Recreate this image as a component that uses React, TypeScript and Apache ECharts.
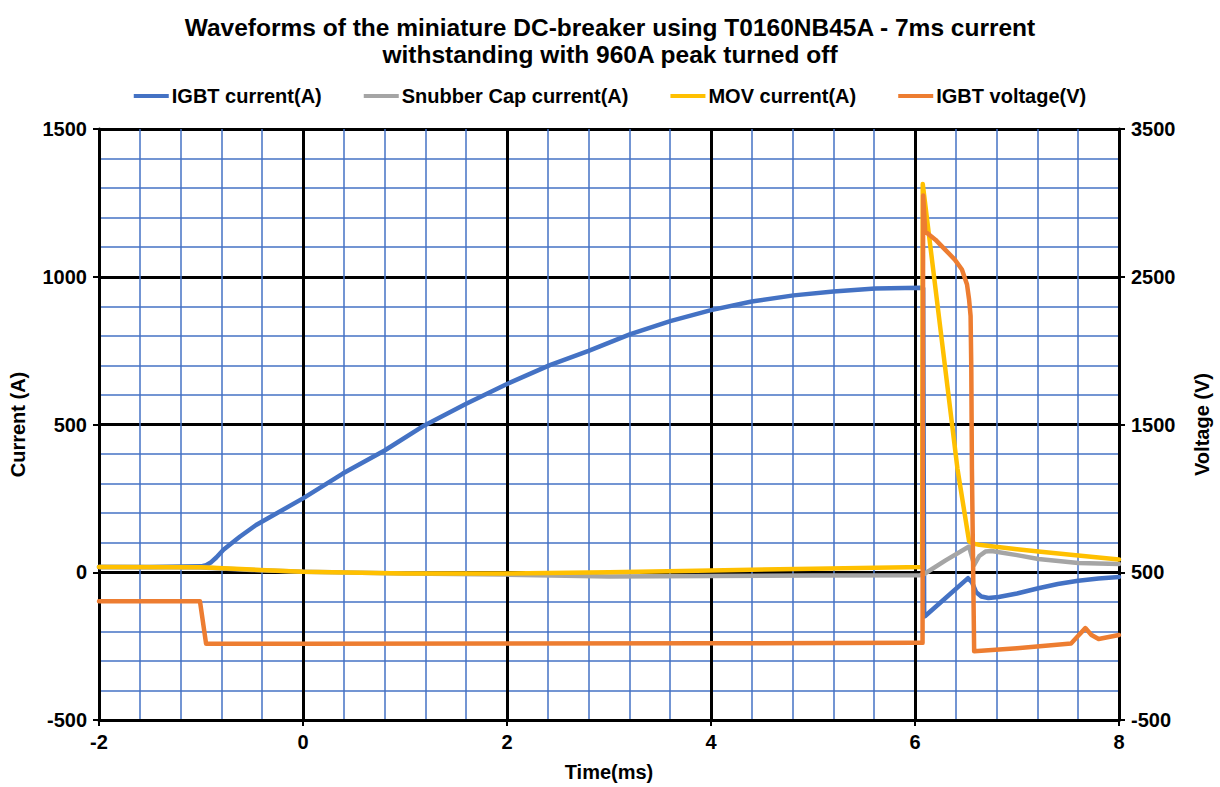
import React, { useEffect, useRef } from "react";
import * as echarts from "echarts";

const titleText =
  "Waveforms of the miniature DC-breaker using T0160NB45A - 7ms current\nwithstanding with 960A peak turned off";

const seriesNames = [
  "IGBT current(A)",
  "Snubber Cap current(A)",
  "MOV current(A)",
  "IGBT voltage(V)",
];

const xTicks = { min: -2, max: 8, interval: 2 };
const currentTicks = { min: -500, max: 1500, interval: 500 };
const voltageTicks = { min: -500, max: 3500, interval: 1000 };

// IGBT current (A)
const igbtCurrentT = [
  -2, -1.5, -1.0, -0.95, -0.9, -0.85, -0.78, -0.62, -0.46, 0, 0.39, 0.8, 1.19, 1.6,
  2.0, 2.42, 2.8, 3.21, 3.6, 4.0, 4.4, 4.81, 5.2, 5.61, 6.05, 6.08, 6.09, 6.1, 6.3,
  6.52, 6.56, 6.6, 6.65, 6.72, 6.82, 7.0, 7.21, 7.4, 7.6, 7.8, 8.0,
];
const igbtCurrentA = [
  18, 18, 20, 24, 34, 50, 76, 120, 160, 250, 334, 412, 497, 570, 637, 701, 749, 806,
  850, 887, 916, 937, 950, 960, 963, 962, -150, -148, -87, -20, -35, -68, -82, -87,
  -84, -72, -54, -40, -29, -21, -16,
];

// Snubber capacitor current (A)
const snubberT = [
  -2, -1, -0.5, 0, 1, 2, 3, 4, 5, 6.05, 6.09, 6.3, 6.53, 6.58, 6.63, 6.69, 6.75,
  7.0, 7.21, 7.6, 8.0,
];
const snubberA = [
  18, 16, 8, 2, -4, -8, -14, -13, -11, -10, -6, 40, 87, 25, 55, 70, 72, 58, 45, 31,
  28,
];

// MOV current (A)
const movT = [
  -2, -1, -0.5, 0, 1, 2, 3, 4, 5, 6.07, 6.076, 6.2, 6.416, 6.53, 6.57, 6.63, 6.75,
  7.0, 7.21, 7.6, 8.0,
];
const movA = [
  18, 17, 9, 2, -4, -4, 0, 6, 12, 18, 1314, 963, 351, 105, 97, 93, 88, 78, 70, 57,
  43,
];

// IGBT voltage (V)
const voltageT = [
  -2, -1.01, -0.95, 0, 2, 4, 6, 6.074, 6.08, 6.1, 6.2, 6.295, 6.39, 6.46, 6.51,
  6.53, 6.545, 6.552, 6.558, 6.58, 7.0, 7.53, 7.6, 7.67, 7.73, 7.8, 7.9, 8.0,
];
const voltageV = [
  303, 303, 16, 16, 17, 19, 22, 22, 3050, 2807, 2751, 2684, 2616, 2549, 2448, 2347,
  2234, 1875, 1201, -34, -14, 18, 70, 122, 75, 48, 62, 75,
];

const seriesColors = ["#4472C4", "#A5A5A5", "#FFC000", "#ED7D31"];

const zip = (t: number[], v: number[]) => t.map((x, i) => [x, v[i]]);

const FONT = 'Arial, "Liberation Sans", sans-serif';

export default function App() {
  const ref = useRef<HTMLDivElement>(null);

  useEffect(() => {
    if (!ref.current) return;
    const chart = echarts.init(ref.current, undefined, { renderer: "svg" });
    const labelStyle = {
      fontSize: 20,
      fontWeight: "bold" as const,
      color: "#000",
      fontFamily: FONT,
    };
    const majorLine = { show: true, lineStyle: { color: "#000", width: 3 } };
    const minorLine = {
      show: true,
      lineStyle: { color: "#4472C4", width: 1.5 },
    };
    const axisLine = {
      show: true,
      onZero: false,
      lineStyle: { color: "#000", width: 3 },
    };
    const axisTick = {
      show: true,
      length: 6,
      lineStyle: { color: "#000", width: 2 },
    };
    const plain = (v: number) => String(v);
    const datasets = [
      zip(igbtCurrentT, igbtCurrentA),
      zip(snubberT, snubberA),
      zip(movT, movA),
      zip(voltageT, voltageV),
    ];
    chart.setOption({
      animation: false,
      textStyle: { fontFamily: FONT },
      title: {
        text: titleText,
        left: "center",
        top: 9,
        textStyle: {
          fontSize: 24.5,
          fontWeight: "bold",
          color: "#000",
          lineHeight: 27,
          fontFamily: FONT,
        },
      },
      legend: {
        top: 81,
        left: "center",
        icon: "rect",
        itemWidth: 35,
        itemHeight: 4,
        itemGap: 42,
        textStyle: { ...labelStyle, padding: [0, 0, 0, -2] },
        data: seriesNames,
      },
      grid: { left: 99, right: 100, top: 129, bottom: 64.5 },
      xAxis: {
        type: "value",
        ...xTicks,
        name: "Time(ms)",
        nameLocation: "middle",
        nameGap: 42,
        nameTextStyle: labelStyle,
        axisLine,
        axisTick,
        axisLabel: { ...labelStyle, margin: 12, formatter: plain },
        splitLine: majorLine,
        minorTick: { show: false, splitNumber: 5 },
        minorSplitLine: minorLine,
      },
      yAxis: [
        {
          type: "value",
          position: "left",
          ...currentTicks,
          name: "Current (A)",
          nameLocation: "middle",
          nameRotate: 90,
          nameGap: 71,
          nameTextStyle: labelStyle,
          axisLine,
          axisTick,
          axisLabel: { ...labelStyle, margin: 12, formatter: plain },
          splitLine: majorLine,
          minorTick: { show: false, splitNumber: 5 },
          minorSplitLine: minorLine,
        },
        {
          type: "value",
          position: "right",
          ...voltageTicks,
          name: "Voltage (V)",
          nameLocation: "middle",
          nameRotate: 90,
          nameGap: 73,
          nameTextStyle: labelStyle,
          axisLine,
          axisTick,
          axisLabel: { ...labelStyle, margin: 12, formatter: plain },
          splitLine: { show: false },
        },
      ],
      series: seriesNames.map((name, i) => ({
        name,
        type: "line",
        yAxisIndex: i === 3 ? 1 : 0,
        data: datasets[i],
        showSymbol: false,
        symbol: "none",
        color: seriesColors[i],
        lineStyle: { width: 4.5, color: seriesColors[i], cap: "round", join: "round" },
        z: 3 + i,
      })),
    });
    return () => chart.dispose();
  }, []);

  return (
    <div
      ref={ref}
      style={{ position: "absolute", left: 0, top: 0, width: 1220, height: 787 }}
    />
  );
}
